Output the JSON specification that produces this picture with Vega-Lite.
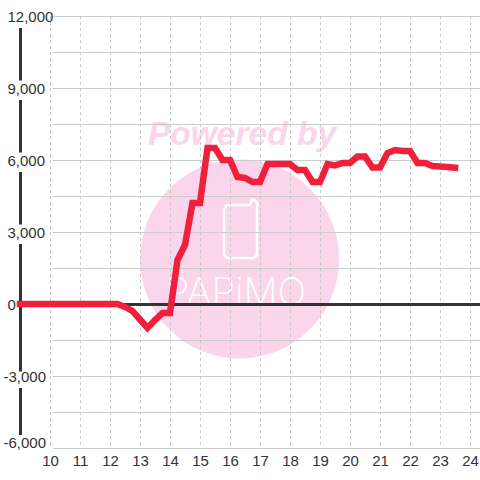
{
"$schema":"https://vega.github.io/schema/vega-lite/v6.json",
"width":460,"height":432,
"autosize":{"type":"none"},
"padding":{"left":20,"top":16,"right":0,"bottom":32},
"background":"white",
"config":{"view":{"stroke":null},"font":"Liberation Sans"},
"datasets":{
"series":[
{"x":9,"y":0},{"x":9.25,"y":0},{"x":9.5,"y":0},{"x":9.75,"y":0},{"x":10,"y":0},{"x":10.25,"y":0},{"x":10.5,"y":0},{"x":10.75,"y":0},{"x":11,"y":0},{"x":11.25,"y":0},{"x":11.5,"y":0},{"x":11.75,"y":0},{"x":12,"y":0},{"x":12.25,"y":0},
{"x":12.5,"y":-125},{"x":12.75,"y":-292},{"x":13,"y":-646},{"x":13.25,"y":-1000},{"x":13.5,"y":-667},{"x":13.75,"y":-375},{"x":14,"y":-375},{"x":14.25,"y":1833},{"x":14.5,"y":2458},{"x":14.75,"y":4208},{"x":15,"y":4208},{"x":15.25,"y":6500},{"x":15.5,"y":6500},{"x":15.75,"y":6000},{"x":16,"y":6000},{"x":16.25,"y":5292},{"x":16.5,"y":5250},{"x":16.75,"y":5083},{"x":17,"y":5083},{"x":17.25,"y":5830},{"x":17.5,"y":5830},{"x":17.75,"y":5830},{"x":18,"y":5830},{"x":18.25,"y":5583},{"x":18.5,"y":5583},{"x":18.75,"y":5083},{"x":19,"y":5083},{"x":19.25,"y":5830},{"x":19.5,"y":5771},{"x":19.75,"y":5875},{"x":20,"y":5875},{"x":20.25,"y":6146},{"x":20.5,"y":6146},{"x":20.75,"y":5688},{"x":21,"y":5688},{"x":21.25,"y":6292},{"x":21.5,"y":6417},{"x":21.75,"y":6375},{"x":22,"y":6375},{"x":22.25,"y":5875},{"x":22.5,"y":5875},{"x":22.75,"y":5750},{"x":23,"y":5730},{"x":23.25,"y":5710},{"x":23.5,"y":5680}
],
"hgrid":[{"y":12000,"x":10.1,"x2":24.3333},{"y":10500,"x":10.1,"x2":24.3333},{"y":9000,"x":10.1,"x2":24.3333},{"y":7500,"x":10.1,"x2":24.3333},{"y":6000,"x":10.1,"x2":24.3333},{"y":4500,"x":10.1,"x2":24.3333},{"y":3000,"x":10.1,"x2":24.3333},{"y":1500,"x":10.1,"x2":24.3333},{"y":-1500,"x":10.1,"x2":24.3333},{"y":-3000,"x":10.1,"x2":24.3333},{"y":-4500,"x":10.1,"x2":24.3333},{"y":-6000,"x":10.1,"x2":24.3333}],
"vgrid":[{"x":10,"y":12000,"y2":-5880},{"x":11,"y":12000,"y2":-5880},{"x":12,"y":12000,"y2":-5880},{"x":13,"y":12000,"y2":-5880},{"x":14,"y":12000,"y2":-5880},{"x":15,"y":12000,"y2":-5880},{"x":16,"y":12000,"y2":-5880},{"x":17,"y":12000,"y2":-5880},{"x":18,"y":12000,"y2":-5880},{"x":19,"y":12000,"y2":-5880},{"x":20,"y":12000,"y2":-5880},{"x":21,"y":12000,"y2":-5880},{"x":22,"y":12000,"y2":-5880},{"x":23,"y":12000,"y2":-5880},{"x":24,"y":12000,"y2":-5880}],
"bar":[{"x":9,"y":11500,"y2":9312},{"x":9,"y":8500,"y2":6312},{"x":9,"y":5500,"y2":3312},{"x":9,"y":2500,"y2":-2812},{"x":9,"y":-3500,"y2":-5460}],
"phone":[{"o":1,"x":15.8,"y":3958},{"o":2,"x":15.8,"y":2042},{"o":3,"x":15.9,"y":1917},{"o":4,"x":16.8,"y":1917},{"o":5,"x":16.9,"y":2042},{"o":6,"x":16.9,"y":4208},{"o":7,"x":16.83,"y":4333},{"o":8,"x":16.73,"y":4333},{"o":9,"x":16.67,"y":4125},{"o":10,"x":15.9,"y":4125},{"o":11,"x":15.8,"y":3958}]
},
"encoding":{
  "x":{"field":"x","type":"quantitative","scale":{"domain":[9,24.3333],"nice":false,"zero":false},
   "axis":{"values":[10,11,12,13,14,15,16,17,18,19,20,21,22,23,24],"title":null,"grid":false,"domain":false,"ticks":false,"labelFontSize":15,"labelColor":"#333333","labelPadding":5,"labelFlush":false,"labelOverlap":false,"labelFont":"Liberation Sans","labelBaseline":"top"}},
  "y":{"field":"y","type":"quantitative","scale":{"domain":[-6000,12000],"nice":false,"zero":false},
   "axis":{"values":[12000,9000,6000,3000,0,-3000,-6000],"labelExpr":"(datum.value<0?'-':'')+format(abs(datum.value), ',')","title":null,"grid":false,"domain":false,"ticks":false,"labelFontSize":15,"labelColor":"#333333","labelFont":"Liberation Sans","labelAlign":"left","labelFlush":false,"labelOverlap":false,"labelPadding":{"condition":{"test":"datum.value<0","value":17},"value":13},"labelOffset":{"condition":{"test":"datum.value==-6000","value":-6},"value":0}}}
},
"layer":[
{"data":{"values":[{"x":16.32,"y":1875}]},
 "mark":{"type":"point","filled":true,"size":39601,"color":"#fbd5ec","opacity":1}},
{"data":{"values":[{"x":16.4,"y":6625,"s":"Powered by"}]},
 "mark":{"type":"text","font":"Liberation Sans","fontWeight":"bold","fontStyle":"italic","fontSize":33.5,"color":"#fbd5ec","align":"center","baseline":"alphabetic"},
 "encoding":{"text":{"field":"s"}}},
{"data":{"name":"phone"},
 "mark":{"type":"line","color":"white","strokeWidth":2.5},
 "encoding":{"order":{"field":"o"}}},
{"data":{"values":[{"x":16.2,"y":-42,"s":"PAPiMO"}]},
 "mark":{"type":"text","font":"Inter","fontWeight":200,"fontSize":38,"color":"white","align":"center","baseline":"alphabetic"},
 "encoding":{"text":{"field":"s"}}},
{"data":{"name":"hgrid"},
 "mark":{"type":"rule","color":"#cccccc","strokeWidth":1.2,"yOffset":0.5},
 "encoding":{"x2":{"field":"x2"}}},
{"data":{"name":"vgrid"},
 "mark":{"type":"rule","color":"#c8c8c8","strokeWidth":1,"strokeDash":[3,3],"xOffset":0.5},
 "encoding":{"y2":{"field":"y2"}}},
{"data":{"name":"bar"},
 "mark":{"type":"rule","color":"#333333","strokeWidth":3,"xOffset":0.5},
 "encoding":{"y2":{"field":"y2"}}},
{"data":{"values":[{"y":0,"x":9,"x2":24.3333}]},
 "mark":{"type":"rule","color":"#333333","strokeWidth":3,"yOffset":0.5},
 "encoding":{"x2":{"field":"x2"}}},
{"data":{"name":"series"},
 "mark":{"type":"line","color":"#f0203a","strokeWidth":6.5,"strokeCap":"square","strokeJoin":"miter"}}
]
}
